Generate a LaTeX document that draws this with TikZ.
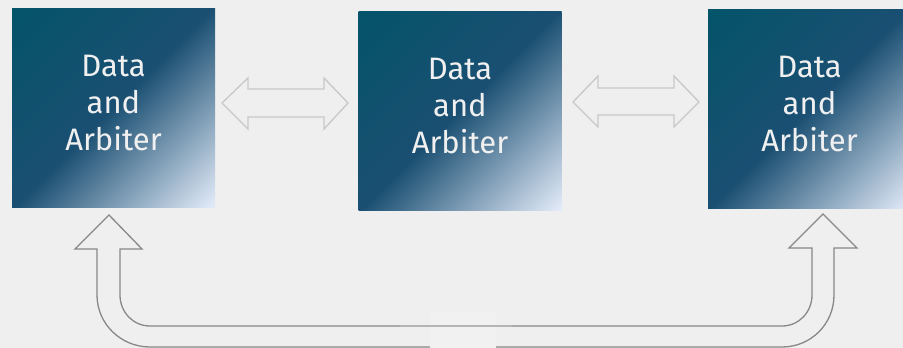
\documentclass[tikz,border=0pt]{standalone}
\usepackage{fontspec}
\setmainfont{Fira Sans}
\usepackage{tikz}
\usetikzlibrary{calc}

\definecolor{bgcol}{HTML}{EFEFEF}
\definecolor{linkgray}{HTML}{C8C8C8}
\definecolor{loopgray}{HTML}{888888}
\definecolor{boxdark}{HTML}{04546A}
\definecolor{boxmid}{HTML}{1A4F72}
\definecolor{boxlight}{HTML}{E2EAF8}
\definecolor{labeltxt}{HTML}{F0F0F0}

\pgfdeclarehorizontalshading{boxshade}{100bp}{%
  color(0bp)=(boxdark); color(15bp)=(boxdark); color(50bp)=(boxmid);
  color(85bp)=(boxlight); color(100bp)=(boxlight)}

\tikzset{
  unit/.style={minimum width=203pt, minimum height=199pt, inner sep=0pt,
    shading=boxshade, shading angle=-45},
  unitlabel/.style={text=labeltxt, align=center,
    font=\fontsize{31}{37}\selectfont},
  link/.style={draw=linkgray, line width=1.3pt, line join=miter},
  loop/.style={draw=loopgray, line width=1.3pt}
}

\begin{document}
\begin{tikzpicture}[x=1pt, y=-1pt]

% Background
\fill[bgcol] (0,0) rectangle (903,348);
\useasboundingbox (0,0) rectangle (903,348);
\clip (0,0) rectangle (903,348);

% Boxes
\node[unit] (box1) at (113.5,107.5) {};
\node[unit] (box2) at (460,110.5) {};
\node[unit] (box3) at (809.5,108.5) {};

% Labels
\node[unitlabel] (label1) at ([yshift=4pt]box1.center) {Data\\and\\Arbiter};
\node[unitlabel] (label2) at ([yshift=4pt]box2.center) {Data\\and\\Arbiter};
\node[unitlabel] (label3) at ([yshift=4pt]box3.center) {Data\\and\\Arbiter};

% Double arrows between boxes
\draw[link] (222,103) -- (248,78) -- (248,89) -- (324,89) -- (324,78)
  -- (348,103) -- (324,129) -- (324,117) -- (248,117) -- (248,129) -- cycle;
\draw[link] (573,102) -- (598,76) -- (598,88) -- (674,88) -- (674,76)
  -- (699,102) -- (674,127) -- (674,115) -- (598,115) -- (598,127) -- cycle;

% Return arrow underneath
\draw[loop] (109,215) -- (142,249) -- (120,249) -- (120,295)
  .. controls (120,312) and (133,326) .. (150,326) -- (782,326)
  .. controls (799,326) and (812,312) .. (812,295) -- (812,248)
  -- (789,248) -- (823,214) -- (857,248) -- (834,248) -- (834,295)
  .. controls (834,324) and (811,347) .. (782,347) -- (150,347)
  .. controls (121,347) and (97,324) .. (97,295) -- (97,249)
  -- (75,249) -- cycle;

% Joint in the middle
\fill[bgcol!85!white] (430,312) rectangle (496,348);
\draw[linkgray!90!black, line width=1.3pt] (400,326) -- (512,326);

\end{tikzpicture}
\end{document}
